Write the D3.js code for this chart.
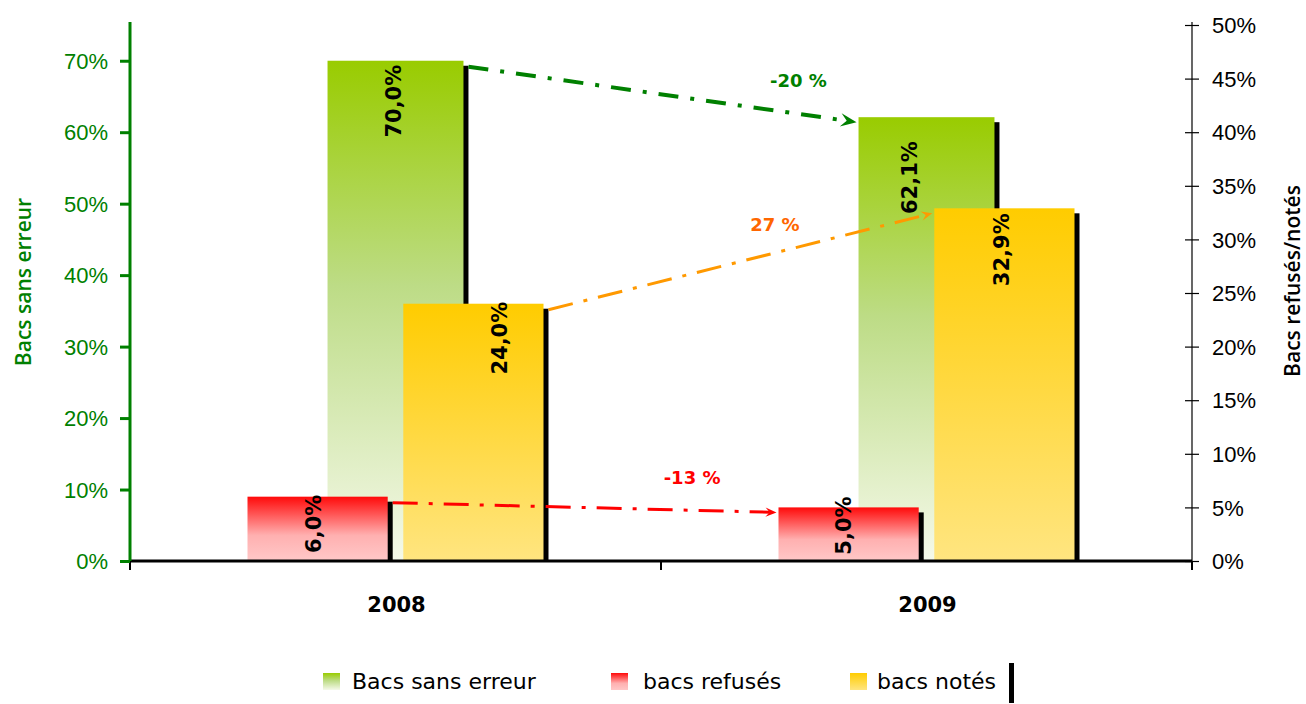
<!DOCTYPE html>
<html>
<head>
<meta charset="utf-8">
<script src="https://cdn.jsdelivr.net/npm/d3@7"></script>
<style>
  body { margin: 0; background: #fff; }
  svg { display: block; }
</style>
</head>
<body>
<svg id="chart"></svg>
<script>
// chart values
const years = ["2008", "2009"];
const sansErreur = [0.700, 0.621];
const refuses = [0.060, 0.050];
const notes = [0.240, 0.329];
const leftTicks = [0, 0.1, 0.2, 0.3, 0.4, 0.5, 0.6, 0.7];
const rightTicks = [0, 0.05, 0.1, 0.15, 0.2, 0.25, 0.3, 0.35, 0.4, 0.45, 0.5];
const variationLabels = ["-20 %", "27 %", "-13 %"];
const legendLabels = ["Bacs sans erreur", "bacs refusés", "bacs notés"];

const width = 1306, height = 704;
const plot = {left: 130, right: 1192, top: 25, bottom: 561};
const shadow = 5;

const svg = d3.select("#chart").attr("width", width).attr("height", height);
svg.append("rect").attr("width", width).attr("height", height).attr("fill", "#fff");

const defs = svg.append("defs");
function gradient(id, stops) {
    let g = defs.append("linearGradient").attr("id", id)
        .attr("x1", 0).attr("y1", 0).attr("x2", 0).attr("y2", 1);
    stops.forEach(s => g.append("stop").attr("offset", s[0]).attr("stop-color", s[1]));
}
gradient("gGreen", [[0, "#99cc00"], [0.45, "#bddc86"], [1, "#f5f9ea"]]);
gradient("gRed", [[0, "#ff0a0a"], [0.6, "#ffb0b0"], [1, "#ffc8c8"]]);
gradient("gYellow", [[0, "#ffcc00"], [1, "#ffe580"]]);

const x0 = d3.scaleBand().domain(years).range([plot.left, plot.right]);
const yL = d3.scaleLinear().domain([0, 0.75]).range([plot.bottom, plot.top]);
const yR = d3.scaleLinear().domain([0, 0.5]).range([plot.bottom, plot.top]);
const greenW = x0.bandwidth() * 0.256;
const x1 = d3.scaleBand().domain(["refuses", "notes"]).range([-148, 148]).paddingInner(0.1);

const center = i => x0(years[i]) + x0.bandwidth() / 2;

const series = [
    {key: "sans", values: sansErreur, y: yL, fill: "url(#gGreen)",
        x: i => center(i) - greenW / 2, w: greenW},
    {key: "refuses", values: refuses, y: yR, fill: "url(#gRed)",
        x: i => center(i) + x1("refuses"), w: x1.bandwidth()},
    {key: "notes", values: notes, y: yR, fill: "url(#gYellow)",
        x: i => center(i) + x1("notes"), w: x1.bandwidth()}
];

// bars with their black offset shadow
const barsG = svg.append("g");
series.forEach(s => {
    let g = barsG.append("g").attr("class", "series-" + s.key);
    g.selectAll("rect.shadow")
        .data(s.values)
        .join("rect")
        .attr("class", "shadow")
        .attr("x", (d, i) => s.x(i) + shadow)
        .attr("y", d => s.y(d) + shadow)
        .attr("width", s.w)
        .attr("height", d => plot.bottom - s.y(d) - shadow)
        .attr("fill", "#000");
    g.selectAll("rect.bar")
        .data(s.values)
        .join("rect")
        .attr("class", "bar")
        .attr("x", (d, i) => s.x(i))
        .attr("y", d => s.y(d))
        .attr("width", s.w)
        .attr("height", d => plot.bottom - s.y(d))
        .attr("fill", s.fill);
});

// value labels, some nudged like in the original
const fmt = d => d3.format(".1f")(d * 100).replace(".", ",") + "%";
const nudge = {
    "sans": [[0, 1], [-15, 21]],
    "refuses": [[-2, -5], [-3, -14]],
    "notes": [[29, -5], [0, 2]]
};
const labelsG = svg.append("g")
    .attr("font-family", "DejaVu Sans, sans-serif")
    .attr("font-weight", "bold")
    .attr("font-size", 21)
    .attr("fill", "#000");
series.forEach(s => {
    labelsG.selectAll(null)
        .data(s.values)
        .join("text")
        .attr("text-anchor", "end")
        .attr("transform", (d, i) => {
            let tx = s.x(i) + s.w / 2 + 5 + nudge[s.key][i][0];
            let ty = s.y(d) + 3 + nudge[s.key][i][1];
            return "translate(" + tx + "," + ty + ") rotate(-90)";
        })
        .text(d => fmt(d));
});

// x axis
svg.append("line")
    .attr("x1", plot.left).attr("x2", plot.right)
    .attr("y1", plot.bottom).attr("y2", plot.bottom)
    .attr("stroke", "#000").attr("stroke-width", 3);
svg.append("g").selectAll("line")
    .data([0, 1, 2])
    .join("line")
    .attr("x1", d => plot.left + d * x0.step())
    .attr("x2", d => plot.left + d * x0.step())
    .attr("y1", plot.bottom).attr("y2", plot.bottom + 9)
    .attr("stroke", "#000").attr("stroke-width", 2);
svg.append("g").selectAll("text")
    .data(years)
    .join("text")
    .attr("x", d => x0(d) + x0.bandwidth() / 2 + 1)
    .attr("y", 612)
    .attr("text-anchor", "middle")
    .attr("font-family", "DejaVu Sans, sans-serif")
    .attr("font-weight", "bold")
    .attr("font-size", 21)
    .text(d => d);

// left axis (green)
const leftAxis = svg.append("g")
    .attr("transform", "translate(" + plot.left + ",0)")
    .call(d3.axisLeft(yL).tickValues(leftTicks).tickFormat(d3.format(".0%"))
        .tickSizeInner(10).tickSizeOuter(0).tickPadding(12));
leftAxis.select(".domain").attr("stroke", "#008000").attr("stroke-width", 3)
    .attr("d", "M0," + (plot.top - 3) + "V" + plot.bottom);
leftAxis.selectAll(".tick line").attr("stroke", "#008000").attr("stroke-width", 3);
leftAxis.selectAll(".tick text")
    .attr("fill", "#008000")
    .attr("font-family", "Liberation Sans, Arial, sans-serif")
    .attr("font-size", 22)
    .attr("dy", "0.35em");

// right axis (black, crossing ticks)
const rightAxis = svg.append("g")
    .attr("transform", "translate(" + plot.right + ",0)")
    .call(d3.axisRight(yR).tickValues(rightTicks).tickFormat(d3.format(".0%"))
        .tickSizeInner(7).tickSizeOuter(0).tickPadding(13));
rightAxis.select(".domain").attr("stroke", "#000").attr("stroke-width", 1.2)
    .attr("d", "M0," + (plot.top - 3) + "V" + plot.bottom);
rightAxis.selectAll(".tick line").attr("x1", -7).attr("stroke", "#000").attr("stroke-width", 1.2);
rightAxis.selectAll(".tick text")
    .attr("fill", "#000")
    .attr("font-family", "Liberation Sans, Arial, sans-serif")
    .attr("font-size", 22)
    .attr("dy", "0.35em");

// axis titles
svg.append("text")
    .attr("transform", "translate(31," + ((plot.top + plot.bottom) / 2 - 11) + ") rotate(-90)")
    .attr("text-anchor", "middle")
    .attr("font-family", "Open Sans, sans-serif")
    .attr("font-weight", 600)
    .attr("font-size", 21)
    .attr("fill", "#008000")
    .text("Bacs sans erreur");
svg.append("text")
    .attr("transform", "translate(1300," + ((plot.top + plot.bottom) / 2 - 12) + ") rotate(-90)")
    .attr("text-anchor", "middle")
    .attr("font-family", "Open Sans, sans-serif")
    .attr("font-weight", 600)
    .attr("font-size", 21)
    .attr("fill", "#000")
    .text("Bacs refusés/notés");

// variation arrows between 2008 and 2009
const arrows = [
    {s: series[0], color: "#008000", text: "#008000", width: 4, dash: "20,12,4,12", head: 16, t: 0.85, dy: -27},
    {s: series[2], color: "#ff9900", text: "#ff6600", width: 3, dash: "25,11,4,11", head: 11, t: 0.59, dy: -22},
    {s: series[1], color: "#ff0000", text: "#ff0000", width: 3, dash: "25,11,4,11", head: 11, t: 0.78, dy: -26}
];
const arrowsG = svg.append("g");
arrows.forEach((a, k) => {
    let s = a.s;
    let xa = s.x(0) + s.w + shadow, ya = s.y(s.values[0]) + 6;
    let xb = s.x(1) - 2, yb = s.y(s.values[1]) + 5;
    let ang = Math.atan2(yb - ya, xb - xa);
    let back = a.head * 0.6;
    arrowsG.append("line")
        .attr("x1", xa).attr("y1", ya)
        .attr("x2", xb - back * Math.cos(ang)).attr("y2", yb - back * Math.sin(ang))
        .attr("stroke", a.color)
        .attr("stroke-width", a.width)
        .attr("stroke-dasharray", a.dash);
    let h = a.head;
    arrowsG.append("path")
        .attr("d", "M0,0L" + (-h) + "," + (-h * 0.42) + "L" + (-h * 0.62) + ",0L" + (-h) + "," + (h * 0.42) + "Z")
        .attr("transform", "translate(" + xb + "," + yb + ") rotate(" + (ang * 180 / Math.PI) + ")")
        .attr("fill", a.color);
    arrowsG.append("text")
        .attr("x", xa + a.t * (xb - xa))
        .attr("y", ya + a.t * (yb - ya) + a.dy)
        .attr("text-anchor", "middle")
        .attr("font-family", "DejaVu Sans, sans-serif")
        .attr("font-weight", "bold")
        .attr("font-size", 18)
        .attr("fill", a.text)
        .text(variationLabels[k]);
});

// legend
const legendItems = [
    {label: legendLabels[0], fill: "url(#gGreen)", x: 323, gap: 29},
    {label: legendLabels[1], fill: "url(#gRed)", x: 611, gap: 32},
    {label: legendLabels[2], fill: "url(#gYellow)", x: 850, gap: 27}
];
const legend = svg.append("g");
legendItems.forEach(it => {
    legend.append("rect")
        .attr("x", it.x).attr("y", 673)
        .attr("width", 17).attr("height", 17)
        .attr("fill", it.fill);
    legend.append("text")
        .attr("x", it.x + it.gap).attr("y", 689)
        .attr("font-family", "DejaVu Sans, sans-serif")
        .attr("font-size", 22)
        .attr("fill", "#000")
        .text(it.label);
});
legend.append("rect")
    .attr("x", 1009).attr("y", 663)
    .attr("width", 5).attr("height", 40)
    .attr("fill", "#000");
</script>
</body>
</html>
